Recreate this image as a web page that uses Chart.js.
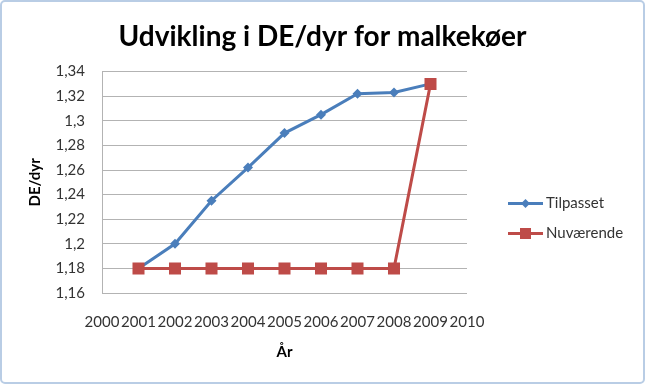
<!DOCTYPE html>
<html>
<head>
<meta charset="utf-8">
<script src="https://cdn.jsdelivr.net/npm/chart.js@4/dist/chart.umd.min.js"></script>
<style>
  html, body { margin: 0; padding: 0; background: #fff; }
  #wrap { position: relative; width: 645px; height: 384px; }
  #c { position: absolute; left: 0; top: 0; }
  #frame { position: absolute; left: 0; top: 0; width: 645px; height: 384px; box-sizing: border-box;
           border: 2px solid #b9cde5; border-radius: 5px; pointer-events: none; }
</style>
</head>
<body>
<div id="wrap">
  <canvas id="c" width="645" height="384"></canvas>
  <div id="frame"></div>
</div>
<script>
const titleText = "Udvikling i DE/dyr for malkekøer";
const xTitle = "År";
const yTitle = "DE/dyr";
const years = [2001, 2002, 2003, 2004, 2005, 2006, 2007, 2008, 2009];
const seriesNames = ["Tilpasset", "Nuværende"];
const tilpasset = [1.18, 1.20, 1.235, 1.262, 1.29, 1.305, 1.322, 1.323, 1.33];
const nuvaerende = [1.18, 1.18, 1.18, 1.18, 1.18, 1.18, 1.18, 1.18, 1.33];
const xMin = 2000, xMax = 2010, xStep = 1;
const yMin = 1.16, yMax = 1.34, yStep = 0.02;

const blue = "#4a7ebb";
const red = "#be4b48";
const FONT = "Lato";

function pts(vals) { return years.map((yr, i) => ({ x: yr, y: vals[i] })); }

const legendPlugin = {
  id: "customLegend",
  afterDraw(chart) {
    const ctx = chart.ctx;
    const ca = chart.chartArea;
    const x0 = ca.right + 41, x1 = ca.right + 76;
    chart.data.datasets.forEach((ds, i) => {
      const y = 203.5 + i * 30;
      ctx.save();
      ctx.strokeStyle = ds.borderColor;
      ctx.lineWidth = 3;
      ctx.beginPath(); ctx.moveTo(x0, y); ctx.lineTo(x1, y); ctx.stroke();
      const cx = (x0 + x1) / 2;
      ctx.fillStyle = ds.backgroundColor;
      ctx.beginPath();
      if (ds.pointStyle === "rect") {
        ctx.rect(cx - 5.5, y - 5.5, 11, 11);
      } else {
        ctx.moveTo(cx, y - 4.5); ctx.lineTo(cx + 4.5, y); ctx.lineTo(cx, y + 4.5); ctx.lineTo(cx - 4.5, y); ctx.closePath();
      }
      ctx.fill();
      ctx.fillStyle = "#333";
      ctx.font = "15px " + FONT;
      ctx.textBaseline = "middle";
      ctx.textAlign = "left";
      ctx.fillText(ds.label, x1 + 3, y);
      ctx.restore();
    });
  }
};

new Chart(document.getElementById("c"), {
  type: "line",
  data: {
    datasets: [
      { label: seriesNames[0], data: pts(tilpasset), borderColor: blue, backgroundColor: blue,
        borderWidth: 3, pointStyle: "rectRot", pointRadius: 5, pointBorderWidth: 0, order: 1, tension: 0 },
      { label: seriesNames[1], data: pts(nuvaerende), borderColor: red, backgroundColor: red,
        borderWidth: 3, pointStyle: "rect", pointRadius: 8.5, pointBorderWidth: 0, order: 0, tension: 0 }
    ]
  },
  options: {
    responsive: false,
    animation: false,
    devicePixelRatio: 1,
    layout: { padding: 0 },
    plugins: {
      legend: { display: false },
      tooltip: { enabled: false },
      title: { display: true, text: titleText, color: "#000",
               font: { family: FONT, size: 28, weight: "bold" }, padding: { top: 20, bottom: 18 } }
    },
    scales: {
      x: {
        type: "linear", min: xMin, max: xMax,
        grid: { display: false, drawTicks: false },
        border: { display: false },
        ticks: { stepSize: xStep, autoSkip: false, maxRotation: 0, padding: 20, color: "#333",
                 font: { family: FONT, size: 15 }, callback: v => String(v) },
        title: { display: true, text: xTitle, color: "#000", font: { family: FONT, size: 15, weight: "bold" },
                 padding: { top: 12, bottom: 23 } },
        afterFit(s) { s.height = 91; }
      },
      y: {
        min: yMin, max: yMax,
        grid: { color: "#b3b3b3", drawTicks: false, lineWidth: 1 },
        border: { display: true, color: "#b3b3b3" },
        ticks: { stepSize: yStep, padding: 17, color: "#333", font: { family: FONT, size: 15 },
                 callback: v => String(Math.round(v * 100) / 100).replace(".", ",") },
        title: { display: true, text: yTitle, color: "#000", font: { family: FONT, size: 15, weight: "bold" },
                 padding: { top: 26, bottom: 4 } },
        afterFit(s) { s.width = 102; }
      },
      yr: {
        position: "right", display: true,
        grid: { display: false, drawTicks: false }, border: { display: false },
        ticks: { display: false },
        afterFit(s) { s.width = 178; }
      }
    }
  },
  plugins: [legendPlugin]
});
</script>
</body>
</html>
